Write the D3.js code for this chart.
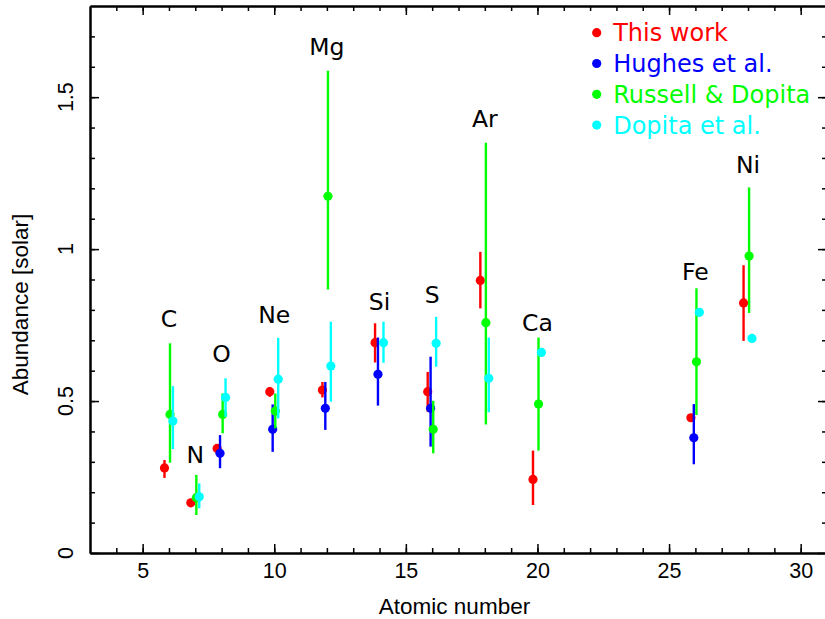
<!DOCTYPE html>
<html>
<head>
<meta charset="utf-8">
<script src="https://cdn.jsdelivr.net/npm/d3@7"></script>
<style>
  body { margin: 0; background: #fff; }
</style>
</head>
<body>
<div id="vis"></div>
<script>
// elements and atomic numbers
var elements = ["C", "N", "O", "Ne", "Mg", "Si", "S", "Ar", "Ca", "Fe", "Ni"];
var atomicNum = [6, 7, 8, 10, 12, 14, 16, 18, 20, 26, 28];
// where the element name sits (abundance units, text baseline)
var labelY = [0.745, 0.297, 0.629, 0.758, 1.638, 0.799, 0.823, 1.402, 0.731, 0.898, 1.249];

// abundances [solar], with lower / upper error ends (null = not given)
var thisWork    = [0.28, 0.165, 0.344, 0.531, 0.536, 0.692, 0.531, 0.897, 0.242, 0.445, 0.823];
var thisWorkLo  = [0.247, 0.157, 0.332, 0.514, 0.512, 0.627, 0.465, 0.805, 0.158, 0.433, 0.698];
var thisWorkHi  = [0.306, 0.173, 0.358, 0.546, 0.563, 0.756, 0.596, 0.991, 0.337, 0.457, 0.947];

var hughes      = [null, null, 0.328, 0.407, 0.476, 0.588, 0.476, null, null, 0.379, null];
var hughesLo    = [null, null, 0.279, 0.333, 0.405, 0.485, 0.350, null, null, 0.292, null];
var hughesHi    = [null, null, 0.388, 0.489, 0.563, 0.709, 0.646, null, null, 0.490, null];

var russell     = [0.456, 0.182, 0.456, 0.467, 1.174, null, 0.407, 0.758, 0.490, 0.629, 0.977];
var russellLo   = [0.297, 0.125, 0.394, 0.410, 0.867, null, 0.328, 0.423, 0.337, 0.454, 0.790];
var russellHi   = [0.690, 0.257, 0.525, 0.525, 1.587, null, 0.501, 1.350, 0.709, 0.871, 1.203];

var dopita      = [0.434, 0.185, 0.512, 0.572, 0.615, 0.692, 0.690, 0.575, 0.660, 0.792, 0.706];
var dopitaLo    = [0.342, 0.147, 0.448, 0.443, 0.498, 0.626, 0.613, 0.463, null, null, null];
var dopitaHi    = [0.549, 0.229, 0.575, 0.708, 0.761, 0.761, 0.777, 0.709, null, null, null];

var seriesNames = ["This work", "Hughes et al.", "Russell & Dopita", "Dopita et al."];
var seriesColors = ["#ff0000", "#0000ff", "#00ff00", "#00ffff"];
var seriesOffset = [-0.17, -0.06, 0.04, 0.15];

var xTicks = [5, 10, 15, 20, 25, 30];
var yTicks = [0, 0.5, 1, 1.5];
var yTickLabels = ["0", "0.5", "1", "1.5"];

var series = [
    {v: thisWork, lo: thisWorkLo, hi: thisWorkHi},
    {v: hughes, lo: hughesLo, hi: hughesHi},
    {v: russell, lo: russellLo, hi: russellHi},
    {v: dopita, lo: dopitaLo, hi: dopitaHi}
];

// set the dimensions and margins of the graph
var margin = {top: 6, right: -2, bottom: 66, left: 90},
    width = 825 - margin.left - margin.right,
    height = 619 - margin.top - margin.bottom;

var svg = d3.select("#vis")
  .append("svg")
    .attr("width", 825)
    .attr("height", 619)
  .append("g")
    .attr("transform", "translate(" + margin.left + "," + margin.top + ")");

var x = d3.scaleLinear().domain([3, 31]).range([0, width]);
var y = d3.scaleLinear().domain([0, 1.8]).range([height, 0]);

var axisFont = "'Liberation Sans', Arial, Helvetica, sans-serif";
var labelFont = "'DejaVu Sans', sans-serif";

function styleAxis(g) {
    g.select(".domain").attr("stroke", "#000").attr("stroke-width", 2);
    g.selectAll(".tick line").attr("stroke", "#000").attr("stroke-width", 1.5);
}

// bottom axis, major + minor
svg.append("g")
    .attr("transform", "translate(0," + height + ")")
    .call(d3.axisBottom(x).tickValues(xTicks).tickSizeInner(-9).tickSizeOuter(0).tickPadding(10))
    .call(styleAxis)
    .call(function(g) {
        g.selectAll("text").attr("font-family", axisFont).attr("font-size", 21.5).attr("fill", "#000");
    });
svg.append("g")
    .attr("transform", "translate(0," + height + ")")
    .call(d3.axisBottom(x).tickValues(d3.range(4, 31)).tickSizeInner(-5).tickSizeOuter(0).tickFormat(""))
    .call(styleAxis);

// top axis
svg.append("g")
    .call(d3.axisTop(x).tickValues(xTicks).tickSizeInner(-9).tickSizeOuter(0).tickFormat(""))
    .call(styleAxis);
svg.append("g")
    .call(d3.axisTop(x).tickValues(d3.range(4, 31)).tickSizeInner(-5).tickSizeOuter(0).tickFormat(""))
    .call(styleAxis);

// left axis
svg.append("g")
    .call(d3.axisLeft(y).tickValues(yTicks).tickSizeInner(-9).tickSizeOuter(0).tickFormat(""))
    .call(styleAxis);
svg.append("g")
    .call(d3.axisLeft(y).tickValues(d3.range(1, 18).map(function(d) { return d / 10; }))
        .tickSizeInner(-5).tickSizeOuter(0).tickFormat(""))
    .call(styleAxis);

// right axis
svg.append("g")
    .attr("transform", "translate(" + width + ",0)")
    .call(d3.axisRight(y).tickValues(yTicks).tickSizeInner(-9).tickSizeOuter(0).tickFormat(""))
    .call(styleAxis);
svg.append("g")
    .attr("transform", "translate(" + width + ",0)")
    .call(d3.axisRight(y).tickValues(d3.range(1, 18).map(function(d) { return d / 10; }))
        .tickSizeInner(-5).tickSizeOuter(0).tickFormat(""))
    .call(styleAxis);

// y tick labels run along the axis
svg.selectAll(".ylab")
    .data(yTicks)
    .enter()
    .append("text")
    .attr("class", "ylab")
    .attr("transform", function(d) { return "translate(-17," + y(d) + ") rotate(-90)"; })
    .attr("text-anchor", "middle")
    .attr("font-family", axisFont)
    .attr("font-size", 21.5)
    .text(function(d, i) { return yTickLabels[i]; });

// axis titles
svg.append("text")
    .attr("x", (x(3) + 825 - margin.left) / 2 - 3)
    .attr("y", height + 61)
    .attr("text-anchor", "middle")
    .attr("font-family", axisFont)
    .attr("font-size", 22.5)
    .text("Atomic number");

svg.append("text")
    .attr("transform", "translate(-62," + (height / 2 + 25) + ") rotate(-90)")
    .attr("text-anchor", "middle")
    .attr("font-family", axisFont)
    .attr("font-size", 22.5)
    .text("Abundance [solar]");

// error bars and points
series.forEach(function(s, k) {
    var pts = atomicNum.map(function(z, i) {
        return {z: z + seriesOffset[k], v: s.v[i], lo: s.lo[i], hi: s.hi[i]};
    }).filter(function(d) { return d.v !== null; });

    var g = svg.append("g");
    g.selectAll("line")
        .data(pts.filter(function(d) { return d.lo !== null; }))
        .enter()
        .append("line")
        .attr("x1", function(d) { return x(d.z); })
        .attr("x2", function(d) { return x(d.z); })
        .attr("y1", function(d) { return y(d.lo); })
        .attr("y2", function(d) { return y(d.hi); })
        .attr("stroke", seriesColors[k])
        .attr("stroke-width", 2.4);

    g.selectAll("circle")
        .data(pts)
        .enter()
        .append("circle")
        .attr("cx", function(d) { return x(d.z); })
        .attr("cy", function(d) { return y(d.v); })
        .attr("r", 4.6)
        .attr("fill", seriesColors[k]);
});

// element names
svg.selectAll(".elem")
    .data(elements)
    .enter()
    .append("text")
    .attr("class", "elem")
    .attr("x", function(d, i) { return x(atomicNum[i]); })
    .attr("y", function(d, i) { return y(labelY[i]); })
    .attr("text-anchor", "middle")
    .attr("font-family", labelFont)
    .attr("font-size", 23.5)
    .attr("fill", "#000")
    .text(function(d) { return d; });

// legend
var legend = svg.append("g")
    .attr("transform", "translate(" + (596.7 - margin.left) + "," + (32.7 - margin.top) + ")");
seriesNames.forEach(function(name, k) {
    legend.append("circle")
        .attr("cx", 0)
        .attr("cy", k * 30.8)
        .attr("r", 4.6)
        .attr("fill", seriesColors[k]);
    legend.append("text")
        .attr("x", 16.5)
        .attr("y", k * 30.8 + 8.7)
        .attr("font-family", labelFont)
        .attr("font-size", 24)
        .attr("fill", seriesColors[k])
        .text(name);
});
</script>
</body>
</html>
